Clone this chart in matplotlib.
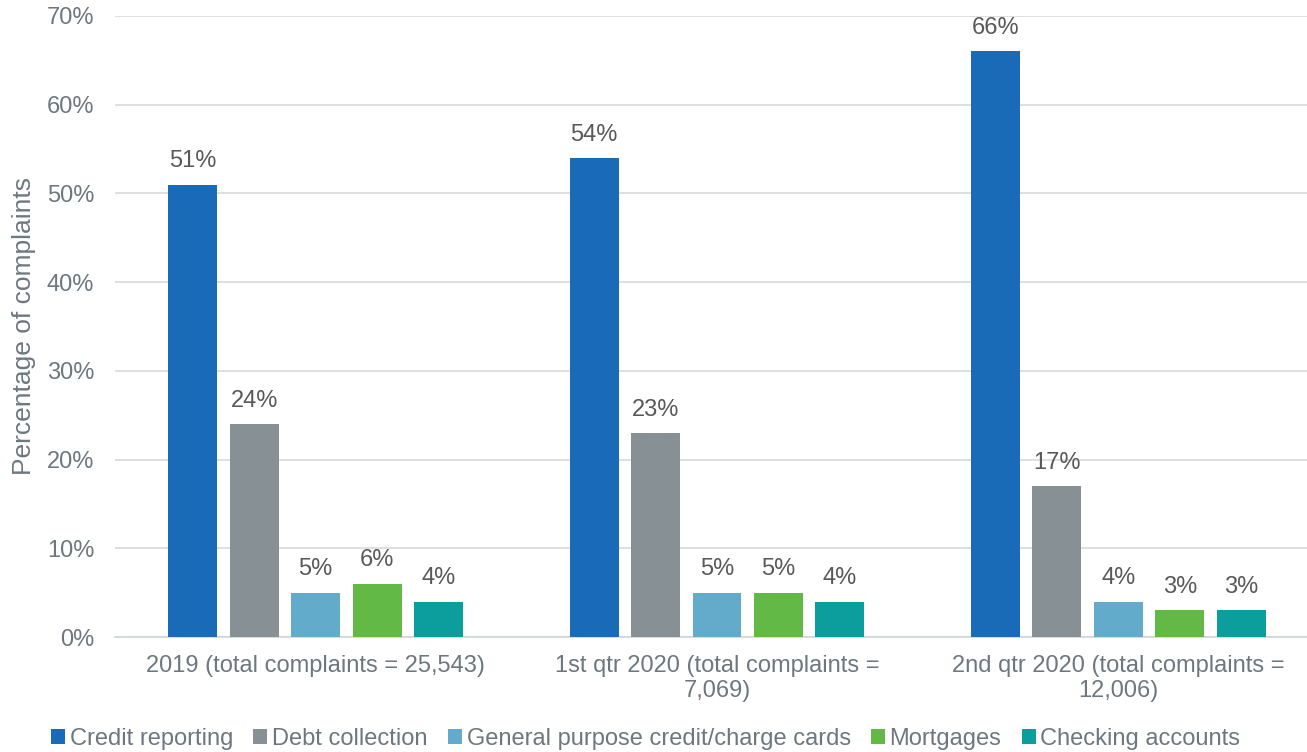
import numpy as np
import matplotlib.pyplot as plt

plt.rcParams['font.family'] = ['Liberation Sans', 'DejaVu Sans']

groups = ["2019 (total complaints = 25,543)",
          "1st qtr 2020 (total complaints =\n7,069)",
          "2nd qtr 2020 (total complaints =\n12,006)"]
series = ["Credit reporting", "Debt collection", "General purpose credit/charge cards",
          "Mortgages", "Checking accounts"]
values = {
    "Credit reporting": [51, 54, 66],
    "Debt collection": [24, 23, 17],
    "General purpose credit/charge cards": [5, 5, 4],
    "Mortgages": [6, 5, 3],
    "Checking accounts": [4, 4, 3],
}
colors = ["#1a6bb7", "#879095", "#63abcb", "#63b946", "#0c9e9c"]

W, H = 1307, 752
fig = plt.figure(figsize=(W / 100, H / 100), dpi=100)
ax = fig.add_axes([115 / W, 1 - 637 / H, (1307 - 115) / W, (637 - 16) / H])

x = np.arange(len(groups))
bw = 0.122
pitch = 0.153
label_col = "#595959"
tick_col = "#6d777e"
for i, s in enumerate(series):
    pos = x + (i - 2) * pitch
    ax.bar(pos, values[s], bw, color=colors[i], label=s, zorder=3)
    for p, v in zip(pos, values[s]):
        ax.text(p, v + 1.4, f"{v}%", ha="center", va="bottom", fontsize=17, color=label_col)

ax.set_xlim(-0.5, 2.5 - 12 / 401)
ax.set_ylim(0, 70)
ax.set_yticks(range(0, 71, 10))
ax.set_yticklabels([f"{t}%" for t in range(0, 71, 10)], fontsize=17, color=tick_col)
ax.set_xticks(x)
ax.set_xticklabels(groups, fontsize=17, color=tick_col, linespacing=1.2)
ax.tick_params(axis="both", length=0)
ax.tick_params(axis="x", pad=13)
ax.tick_params(axis="y", pad=15)
ax.grid(axis="y", color="#d9d9d9", linewidth=1.2, zorder=0)
for sp in ["top", "right", "left"]:
    ax.spines[sp].set_visible(False)
ax.spines["bottom"].set_color("#d0d6d6")
ax.spines["bottom"].set_linewidth(1.2)
ax.set_ylabel("Percentage of complaints", fontsize=19, color=tick_col, labelpad=8)

leg = fig.legend(loc="lower center", bbox_to_anchor=(0.494, -0.025), ncol=5, frameon=False,
                 fontsize=17, handlelength=0.6, handleheight=0.6, handletextpad=0.2,
                 columnspacing=0.85)
for t in leg.get_texts():
    t.set_color(tick_col)

fig.savefig("out.png", dpi=100)
